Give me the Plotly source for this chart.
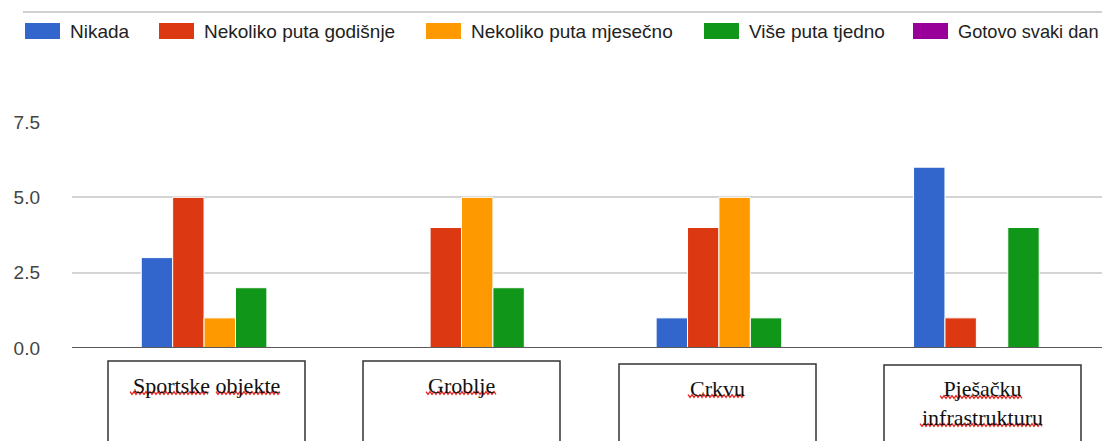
import numpy as np
import plotly.graph_objects as go

# ---- data ----
categories = ["Sportske objekte", "Groblje", "Crkvu", "Pješačku infrastrukturu"]
category_lines = [["Sportske objekte"], ["Groblje"], ["Crkvu"], ["Pješačku", "infrastrukturu"]]
series_names = ["Nikada", "Nekoliko puta godišnje", "Nekoliko puta mjesečno",
                "Više puta tjedno", "Gotovo svaki dan"]
nikada = [3, 0, 1, 6]
godisnje = [5, 4, 4, 1]
mjesecno = [1, 5, 5, 0]
tjedno = [2, 2, 1, 4]
svaki_dan = [0, 0, 0, 0]
y_ticks = [0.0, 2.5, 5.0, 7.5]

series_values = [nikada, godisnje, mjesecno, tjedno, svaki_dan]
colors = ["#3366cc", "#dc3912", "#ff9900", "#109618", "#990099"]

# ---- page geometry (pixels) ----
W, H = 1102, 441
L, R, T, B = 72, 0, 122, 93


def px_x(p):
    return (p - L) / (W - L - R)


def px_y(p):
    return (H - B - p) / (H - T - B)


fig = go.Figure()
for name, vals, col in zip(series_names, series_values, colors):
    fig.add_trace(go.Bar(
        x=categories, y=vals, name=name, showlegend=False,
        marker=dict(color=col, line=dict(color="white", width=1)),
    ))

shapes = []
annotations = []

# rule above the legend
shapes.append(dict(type="line", xref="paper", yref="paper",
                   x0=px_x(23), x1=px_x(W), y0=px_y(12), y1=px_y(12),
                   line=dict(color="#d0d0d0", width=2)))

# legend swatches and labels
swatch_left = [25, 159, 426, 704, 913]
label_size = [19, 19, 19, 19, 18.2]
for name, col, sx, fs in zip(series_names, colors, swatch_left, label_size):
    shapes.append(dict(type="rect", xref="paper", yref="paper",
                       x0=px_x(sx), x1=px_x(sx + 35), y0=px_y(23), y1=px_y(39),
                       fillcolor=col, line=dict(width=0)))
    annotations.append(dict(text=name, xref="paper", yref="paper",
                            x=px_x(sx + 43), y=px_y(31.5), xanchor="left", yanchor="middle",
                            showarrow=False,
                            font=dict(family="Liberation Sans, Arial", size=fs, color="#222222")))

# baseline drawn over the bars
shapes.append(dict(type="line", xref="paper", yref="y", x0=0, x1=1, y0=0, y1=0,
                   layer="above", line=dict(color="#5a5a5a", width=2)))

# category label boxes
boxes = [(108, 305, 361), (363, 560, 361), (619, 816, 364), (884, 1081, 365)]
text_top = [385, 385, 388, 388]
for lines, (bx0, bx1, by0), ty in zip(category_lines, boxes, text_top):
    shapes.append(dict(type="rect", xref="paper", yref="paper",
                       x0=px_x(bx0), x1=px_x(bx1), y0=px_y(by0), y1=px_y(460),
                       line=dict(color="#333333", width=1.5), fillcolor="rgba(0,0,0,0)"))
    annotations.append(dict(text="<br>".join(lines), xref="paper", yref="paper",
                            x=px_x((bx0 + bx1) / 2), y=px_y(ty - 14),
                            xanchor="center", yanchor="top", align="center", showarrow=False,
                            font=dict(family="Liberation Serif, Times New Roman", size=22,
                                      color="#111111")))

# spell-check squiggles under the label words
squiggles = [(130, 208, 393), (216, 280, 393), (426, 497, 393), (688, 744, 396),
             (940, 1022, 397), (920, 1043, 425)]
for x0, x1, yy in squiggles:
    xs = np.arange(x0, x1 + 0.1, 2.0)
    ys = yy + np.where(np.arange(len(xs)) % 2 == 0, -1.4, 1.4)
    path = "M" + " L".join(f"{px_x(a):.5f},{px_y(b):.5f}" for a, b in zip(xs, ys))
    shapes.append(dict(type="path", xref="paper", yref="paper", path=path,
                       line=dict(color="#e3261f", width=1.3)))

fig.update_layout(
    width=W, height=H,
    margin=dict(l=L, r=R, t=T, b=B, pad=0),
    paper_bgcolor="white", plot_bgcolor="white",
    barmode="group", bargap=0.39, bargroupgap=0.0,
    font=dict(family="Liberation Sans, Arial", size=19, color="#444444"),
    shapes=shapes, annotations=annotations,
    xaxis=dict(showticklabels=False, showgrid=False, zeroline=False, showline=False,
               ticks="", fixedrange=True, range=[-0.574, 3.427]),
    yaxis=dict(range=[0, 7.5], tickvals=y_ticks, tickformat=".1f",
               showgrid=True, gridcolor="#d4d4d4", gridwidth=1.5,
               zeroline=False, showline=False, ticks="", ticklabelstandoff=31,
               tickfont=dict(size=19, color="#444444")),
)

fig.write_html("out.html")
